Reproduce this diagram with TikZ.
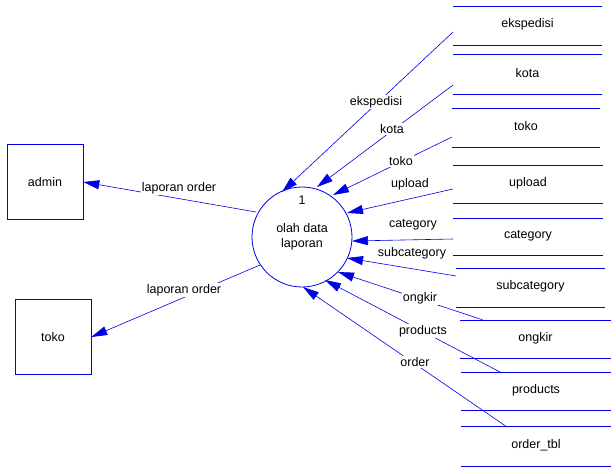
\documentclass[tikz,border=0pt]{standalone}
\usepackage{fontspec}
\setmainfont{Liberation Sans}
\usetikzlibrary{arrows.meta}
\definecolor{bl}{RGB}{0,0,230}
\begin{document}
\begin{tikzpicture}[x=1pt,y=-1pt,
  every node/.style={font=\fontsize{12.5}{15}\selectfont},
  flow/.style={draw=bl,-{Triangle[length=16pt,width=9pt]},line width=0.6pt},
  lbl/.style={fill=white,inner sep=1pt},
  ent/.style={draw=bl,line width=0.6pt,minimum width=76pt,minimum height=75pt},
  st/.style={draw=bl,line width=0.6pt}]
\useasboundingbox (0,0) rectangle (612,474);
\node[ent] (admin) at (45,182) {admin};
\node[ent] (tokoE) at (53,337) {toko};
\node[draw=bl,line width=0.8pt,circle,minimum size=100pt,inner sep=0pt] (p) at (302,237) {};
\node at (302,200) {1};
\node[align=center] at (302,237) {olah data\\laporan};
% stores
\foreach \n/\t/\a/\b/\xl/\xr in {ekspedisi/ekspedisi/6/45/453/602, kota/kota/54/94/453/602, toko/toko/108/147/452/600, upload/upload/165/203/453/603, category/category/218/255/453/603, subcategory/subcategory/268/307/456/605, ongkir/ongkir/320/358/460/611, products/products/372/410/461/611, order/order\_tbl/426/466/461/611}{
  \draw[st] (\xl,\a) -- (\xr,\a);
  \draw[st] (\xl,\b) -- (\xr,\b);
  \node (s\n) at ({(\xl+\xr)/2},{(\a+\b)/2-1}) {\t};
}
\coordinate (cE) at (453,32);
\coordinate (cK) at (453,85);
\coordinate (cT) at (452,137);
\coordinate (cU) at (453,189);
\coordinate (cC) at (453,239);
\coordinate (cS) at (456,276);
\coordinate (cO) at (483,320);
\coordinate (cP) at (500,372);
\coordinate (cR) at (507,427);
\draw[flow] (cE) -- (282,192);
\draw[flow] (cK) -- (317,187);
\draw[flow] (cT) -- (333,195);
\draw[flow] (cU) -- (347,213);
\draw[flow] (cC) -- (352,241);
\draw[flow] (cS) -- (347,258);
\draw[flow] (cO) -- (338,272);
\draw[flow] (cP) -- (325,280);
\draw[flow] (cR) -- (303,287);
\draw[flow] (256,212) -- (admin.east);
\draw[flow] (260,265) -- (tokoE.east);
\node[lbl] (lE) at (376,102) {ekspedisi};
\node[lbl] (lK) at (392,129) {kota};
\node[lbl] (lT) at (401,161) {toko};
\node[lbl] (lU) at (410,184) {upload};
\node[lbl] (lC) at (413,225) {category};
\node[lbl] (lS) at (412,253) {subcategory};
\node[lbl] (lO) at (420,298) {ongkir};
\node[lbl] (lP) at (423,331) {products};
\node[lbl] (lR) at (415,362) {order};
\node[lbl] (lA) at (179,188) {laporan order};
\node[lbl] (lB) at (184,290) {laporan order};
\end{tikzpicture}
\end{document}
